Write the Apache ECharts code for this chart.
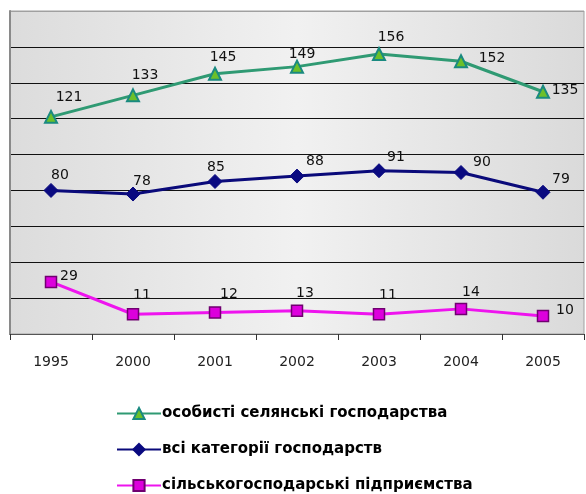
<!DOCTYPE html>
<html>
<head>
<meta charset="utf-8">
<script src="https://cdn.jsdelivr.net/npm/echarts@6/dist/echarts.min.js"></script>
<style>
  html, body { margin: 0; padding: 0; background: #ffffff; }
  #chart { width: 586px; height: 494px; }
</style>
</head>
<body>
<div id="chart"></div>
<script>
// Years on the category axis
const years = ['1995', '2000', '2001', '2002', '2003', '2004', '2005'];

// Series names (legend order)
const nameHouseholds = 'особисті селянські господарства';
const nameAll = 'всі категорії господарств';
const nameEnterprises = 'сільськогосподарські підприємства';

// Values per series
const householdsValues = [121, 133, 145, 149, 156, 152, 135];
const allValues = [80, 78, 85, 88, 91, 90, 79];
const enterprisesValues = [29, 11, 12, 13, 11, 14, 10];

// Value label placement relative to each point (dx, dy in px)
const householdsLabelShift = [[18, -20], [12, -20], [8, -16], [5, -12], [12, -17], [31, -3], [22, -1]];
const allLabelShift = [[9, -15], [9, -13], [1, -14], [18, -15], [17, -13], [21, -10], [18, -13]];
const enterprisesLabelShift = [[18, -6], [9, -19], [14, -18], [8, -17], [9, -19], [10, -17], [22, -6]];

function withLabels(values, shifts) {
  return values.map((v, i) => ({
    value: v,
    label: { offset: shifts[i] }
  }));
}

const textFont = '"DejaVu Sans", Verdana, sans-serif';

const labelStyle = {
  show: true,
  position: 'inside',
  color: '#111',
  fontFamily: textFont,
  fontSize: 14
};

const chart = echarts.init(document.getElementById('chart'), null, { renderer: 'canvas' });

chart.setOption({
  animation: false,
  backgroundColor: '#ffffff',
  grid: {
    left: 10,
    right: 2,
    top: 11,
    bottom: 160,
    show: true,
    borderColor: '#a0a0a0',
    borderWidth: 1,
    backgroundColor: new echarts.graphic.LinearGradient(0, 0, 1, 0, [
      { offset: 0, color: '#dcdcdc' },
      { offset: 0.5, color: '#f1f1f1' },
      { offset: 1, color: '#dadada' }
    ])
  },
  xAxis: {
    type: 'category',
    data: years,
    boundaryGap: true,
    axisLine: { show: true, lineStyle: { color: '#555', width: 1 } },
    axisTick: { show: true, length: 6, lineStyle: { color: '#333' } },
    axisLabel: {
      color: '#222',
      fontFamily: textFont,
      fontSize: 14,
      margin: 21
    }
  },
  yAxis: {
    type: 'value',
    min: 0,
    max: 180,
    interval: 20,
    axisLabel: { show: false },
    axisTick: { show: false },
    axisLine: { show: true, lineStyle: { color: '#8a8a8a', width: 2 } },
    splitLine: {
      show: true,
      lineStyle: {
        color: ['#000', '#111', '#111', '#111', '#111', '#111', '#111', '#111', '#111', '#a0a0a0'],
        width: 1
      }
    }
  },
  legend: {
    orient: 'vertical',
    left: 116,
    top: 406,
    height: 120,
    padding: 0,
    itemWidth: 44,
    itemHeight: 14,
    itemGap: 21,
    textStyle: {
      color: '#000',
      fontFamily: textFont,
      fontWeight: 'bold',
      fontSize: 15,
      padding: [0, 0, 0, -4]
    },
    data: [nameHouseholds, nameAll, nameEnterprises]
  },
  series: [
    {
      name: nameHouseholds,
      type: 'line',
      data: withLabels(householdsValues, householdsLabelShift),
      symbol: 'triangle',
      symbolSize: 12,
      lineStyle: { color: '#2f9a73', width: 3 },
      itemStyle: { color: '#6cc02a', borderColor: '#1a8a80', borderWidth: 2 },
      label: labelStyle,
      z: 3
    },
    {
      name: nameAll,
      type: 'line',
      data: withLabels(allValues, allLabelShift),
      symbol: 'diamond',
      symbolSize: 14,
      lineStyle: { color: '#0a0a7a', width: 3 },
      itemStyle: { color: '#0a0a80', borderColor: '#0a0a80', borderWidth: 1 },
      label: labelStyle,
      z: 3
    },
    {
      name: nameEnterprises,
      type: 'line',
      data: withLabels(enterprisesValues, enterprisesLabelShift),
      symbol: 'rect',
      symbolSize: 11,
      lineStyle: { color: '#ee14ee', width: 3 },
      itemStyle: { color: '#dd00dd', borderColor: '#700070', borderWidth: 1.5 },
      label: labelStyle,
      z: 3
    }
  ]
});
</script>
</body>
</html>
